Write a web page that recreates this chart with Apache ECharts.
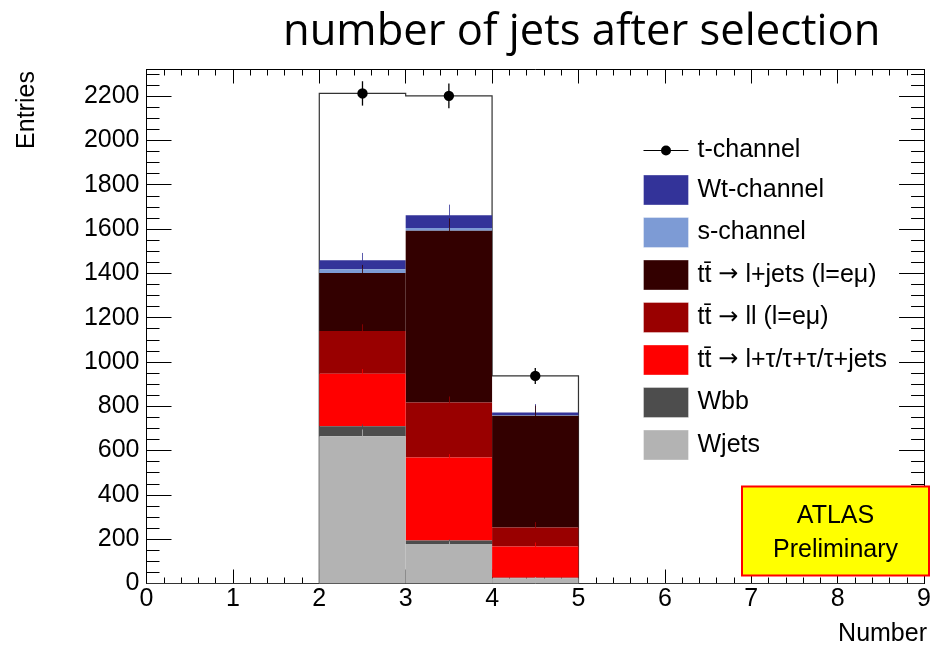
<!DOCTYPE html>
<html>
<head>
<meta charset="utf-8">
<script src="https://cdn.jsdelivr.net/npm/echarts@6/dist/echarts.min.js"></script>
<style>
html,body{margin:0;padding:0;background:#fff;}
#chart{width:934px;height:645px;}
</style>
</head>
<body>
<div id="chart"></div>
<script>
// ---- data ----
const binEdges = [0, 1, 2, 3, 4, 5, 6, 7, 8, 9];
const yTicksMax = 2320;

// component values per bin (stack order: bottom -> top)
const wjets   = [0, 0, 665, 178, 24, 0, 0, 0, 0];
const wbb     = [0, 0, 45, 16, 2, 0, 0, 0, 0];
const ttTau   = [0, 0, 237, 375, 141, 0, 0, 0, 0];
const ttLL    = [0, 0, 193, 248, 86, 0, 0, 0, 0];
const ttLjets = [0, 0, 261, 775, 504, 0, 0, 0, 0];
const sChan   = [0, 0, 17, 13, 3, 0, 0, 0, 0];
const wtChan  = [0, 0, 41, 57, 12, 0, 0, 0, 0];
const tChan   = [0, 0, 753, 539, 165, 0, 0, 0, 0];

// MC stat errors per component (half size)
const wjetsErr   = [0, 0, 30, 12, 5, 0, 0, 0, 0];
const wbbErr     = [0, 0, 8, 4, 1, 0, 0, 0, 0];
const ttTauErr   = [0, 0, 21, 15, 18, 0, 0, 0, 0];
const ttLLErr    = [0, 0, 30, 27, 24, 0, 0, 0, 0];
const ttLjetsErr = [0, 0, 37, 56, 46, 0, 0, 0, 0];
const sChanErr   = [0, 0, 6, 5, 2, 0, 0, 0, 0];
const wtChanErr  = [0, 0, 33, 48, 38, 0, 0, 0, 0];

// t-channel points (stack total) with error bars
const pointValues = [0, 0, 2212, 2201, 937, 0, 0, 0, 0];
const pointErrors = [0, 0, 55, 56, 36, 0, 0, 0, 0];

const names = [
  't-channel',
  'Wt-channel',
  's-channel',
  't\u0074\u0304 \u2192 l+jets (l=e\u03bc)',
  't\u0074\u0304 \u2192 ll (l=e\u03bc)',
  't\u0074\u0304 \u2192 l+\u03c4/\u03c4+\u03c4/\u03c4+jets',
  'Wbb',
  'Wjets'
];
const colors = ['#ffffff', '#333399', '#7d9bd5', '#330000', '#990000', '#ff0000', '#4d4d4d', '#b3b3b3'];
// top -> bottom order (matches legend)
const compValues = [tChan, wtChan, sChan, ttLjets, ttLL, ttTau, wbb, wjets];
const compErrors = [null, wtChanErr, sChanErr, ttLjetsErr, ttLLErr, ttTauErr, wbbErr, wjetsErr];

// ---- build stacked data ----
const nb = binEdges.length - 1;
const cumTop = [];
{
  const running = new Array(nb).fill(0);
  const tmp = [];
  for (let c = compValues.length - 1; c >= 0; c--) {
    const base = running.slice();
    for (let i = 0; i < nb; i++) running[i] += compValues[c][i];
    tmp[c] = { base: base, top: running.slice() };
  }
  for (let c = 0; c < compValues.length; c++) cumTop[c] = tmp[c];
}

const FONT = '"Liberation Sans", Arial, sans-serif';

function makeComp(c) {
  const data = [];
  for (let i = 0; i < nb; i++) {
    data.push([binEdges[i], binEdges[i + 1], cumTop[c].base[i], cumTop[c].top[i],
      compErrors[c] ? compErrors[c][i] : 0, compValues[c][i]]);
  }
  return {
    type: 'custom',
    name: names[c],
    xAxisIndex: 0, yAxisIndex: 0,
    itemStyle: { color: colors[c] },
    silent: true,
    data: data,
    renderItem: function (params, api) {
      const x0 = api.value(0), x1 = api.value(1), b = api.value(2), t = api.value(3), e = api.value(4), v = api.value(5);
      if (!(v > 0)) return null;
      const p0 = api.coord([x0, t]);
      const p1 = api.coord([x1, b]);
      const children = [{
        type: 'rect',
        shape: { x: p0[0], y: p0[1], width: p1[0] - p0[0], height: p1[1] - p0[1] },
        style: { fill: colors[c] }
      }];
      if (e > 0) {
        const xc = (x0 + x1) / 2;
        const e0 = api.coord([xc, t - e]);
        const e1 = api.coord([xc, t + e]);
        children.push({
          type: 'line',
          shape: { x1: Math.round(e0[0]) + 0.5, y1: e0[1], x2: Math.round(e1[0]) + 0.5, y2: e1[1] },
          style: { stroke: colors[c], lineWidth: 1, opacity: 0.8 }
        });
      }
      return { type: 'group', children: children };
    }
  };
}

const series = [];
series.push(makeComp(0));
series.push({
  type: 'custom',
  name: 'outline',
  silent: true,
  xAxisIndex: 0, yAxisIndex: 0,
  data: [[0]],
  renderItem: function (params, api) {
    const tot = cumTop[0].top;
    const pts = [];
    pts.push(api.coord([binEdges[0], 0]));
    for (let i = 0; i < nb; i++) {
      pts.push(api.coord([binEdges[i], tot[i]]));
      pts.push(api.coord([binEdges[i + 1], tot[i]]));
    }
    pts.push(api.coord([binEdges[nb], 0]));
    return {
      type: 'polyline',
      shape: { points: pts },
      style: { stroke: '#333333', lineWidth: 1.2, fill: null }
    };
  }
});
for (let c = 1; c < compValues.length; c++) series.push(makeComp(c));

const ptData = [];
for (let i = 0; i < nb; i++) ptData.push([(binEdges[i] + binEdges[i + 1]) / 2, pointValues[i], pointErrors[i]]);
series.push({
  type: 'custom',
  name: 'points',
  silent: true,
  xAxisIndex: 0, yAxisIndex: 0,
  data: ptData,
  renderItem: function (params, api) {
    const x = api.value(0), y = api.value(1), e = api.value(2);
    if (!(y > 0)) return null;
    const p = api.coord([x, y]);
    const a = api.coord([x, y - e]);
    const b = api.coord([x, y + e]);
    return {
      type: 'group',
      children: [
        { type: 'line', shape: { x1: p[0], y1: a[1], x2: p[0], y2: b[1] }, style: { stroke: '#000', lineWidth: 1.3 } },
        { type: 'circle', shape: { cx: p[0], cy: p[1], r: 5.2 }, style: { fill: '#000' } }
      ]
    };
  }
});

const legendData = names.map(function (n, c) {
  if (c === 0) {
    return {
      name: n,
      icon: 'path://M0,4.5L45,4.5L45,5.5L0,5.5Z M17.5,5A5,5 0 1 1 27.5,5A5,5 0 1 1 17.5,5Z',
      itemStyle: { color: '#000', borderWidth: 0 }
    };
  }
  return { name: n, icon: 'rect', itemStyle: { color: colors[c], borderColor: 'rgba(255,255,255,0.35)', borderWidth: 1 } };
});

function yAx(pos, interval, len, labels) {
  return {
    type: 'value', min: 0, max: yTicksMax, interval: interval, position: pos,
    axisLine: { show: true, onZero: false, lineStyle: { color: '#000', width: 1 } },
    axisTick: { show: true, inside: true, length: len, lineStyle: { color: '#000', width: 1 } },
    axisLabel: labels ? { show: true, fontSize: 25, color: '#000', fontFamily: FONT, margin: 7, showMaxLabel: false,
      formatter: function (v) { return String(v); } } : { show: false },
    splitLine: { show: false }
  };
}
function xAx(pos, labels) {
  return {
    type: 'value', min: 0, max: 9, interval: 1, position: pos,
    axisLine: { show: true, onZero: false, lineStyle: { color: '#000', width: 1 } },
    axisTick: { show: true, inside: true, length: 14, lineStyle: { color: '#000', width: 1 } },
    minorTick: { show: true, splitNumber: 5, length: 6, lineStyle: { color: '#000', width: 1 } },
    axisLabel: labels ? { show: true, fontSize: 25, color: '#000', fontFamily: FONT, margin: 3,
      formatter: function (v) { return String(v); } } : { show: false },
    splitLine: { show: false },
    minorSplitLine: { show: false }
  };
}

const chart = echarts.init(document.getElementById('chart'), null, { renderer: 'canvas' });
chart.setOption({
  animation: false,
  backgroundColor: '#ffffff',
  grid: { left: 146.5, top: 69.5, right: 5, bottom: 61.5, containLabel: false },
  xAxis: [xAx('bottom', true), xAx('top', false)],
  yAxis: [yAx('left', 200, 25, true), yAx('left', 50, 13, false), yAx('right', 200, 25, false), yAx('right', 50, 13, false)],
  legend: {
    show: true,
    orient: 'vertical',
    left: 643, top: 138,
    padding: 0,
    itemWidth: 45, itemHeight: 30, itemGap: 11.5,
    selectedMode: false,
    data: legendData,
    formatter: function (name) { return name.replace('\u2192', '{arr|\u2192}'); },
    textStyle: {
      fontSize: 25, color: '#000', fontFamily: FONT, padding: [0, 0, 0, 4],
      rich: { arr: { fontSize: 24, fontFamily: '"DejaVu Sans", sans-serif', color: '#000' } }
    }
  },
  series: series,
  graphic: [
    { type: 'text', left: 283, top: 11, style: { text: 'number of jets after selection', fill: '#000', font: '43.5px "Open Sans", sans-serif' } },
    { type: 'text', x: 27, y: 110, rotation: Math.PI / 2, style: { text: 'Entries', fill: '#000', font: '25px ' + FONT, align: 'center', verticalAlign: 'middle' } },
    { type: 'text', x: 927, y: 634, style: { text: 'Number', fill: '#000', font: '25px ' + FONT, align: 'right', verticalAlign: 'middle' } },
    { type: 'rect', shape: { x: 742, y: 486.5, width: 187, height: 89 }, style: { fill: '#ffff00', stroke: '#ff0000', lineWidth: 2 }, z: 100 },
    { type: 'text', x: 835.5, y: 516, style: { text: 'ATLAS', fill: '#000', font: '25px ' + FONT, align: 'center', verticalAlign: 'middle' }, z: 101 },
    { type: 'text', x: 835.5, y: 550, style: { text: 'Preliminary', fill: '#000', font: '25px ' + FONT, align: 'center', verticalAlign: 'middle' }, z: 101 }
  ]
});
</script>
</body>
</html>
